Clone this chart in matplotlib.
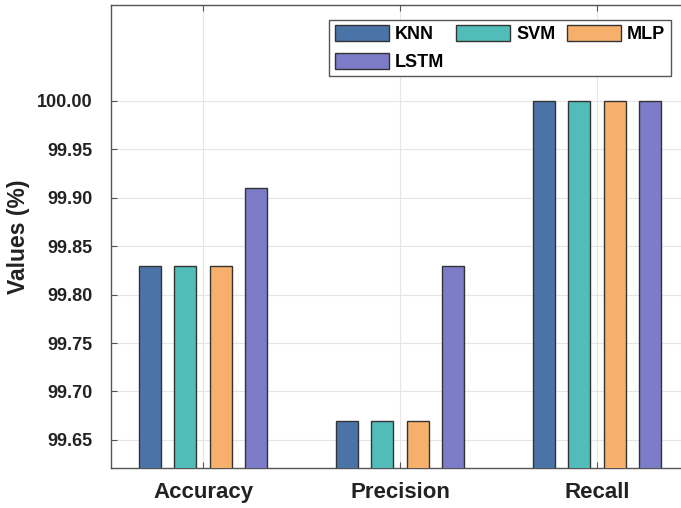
import matplotlib
matplotlib.use("Agg")
import matplotlib.pyplot as plt
import numpy as np

categories = ["Accuracy", "Precision", "Recall"]
models = ["KNN", "SVM", "MLP", "LSTM"]
knn = [99.83, 99.67, 100.00]
svm = [99.83, 99.67, 100.00]
mlp = [99.83, 99.67, 100.00]
lstm = [99.91, 99.83, 100.00]
yticks = [99.65, 99.70, 99.75, 99.80, 99.85, 99.90, 99.95, 100.00]

series = [knn, svm, mlp, lstm]
colors = ["#4a74a8", "#52bdb8", "#f7b06b", "#7d7cc9"]
offsets = [-0.27, -0.09, 0.09, 0.27]
width = 0.112

plt.rcParams['font.family'] = ['Liberation Sans', 'DejaVu Sans']
fig = plt.figure(figsize=(6.81, 5.08), dpi=100)
W, H = 681, 508
ax = fig.add_axes([111 / W, (H - 468) / H, (681 - 111) / W, (468 - 5) / H])

x = np.arange(1, len(categories) + 1)
handles = []
for vals, c, off, name in zip(series, colors, offsets, models):
    b = ax.bar(x + off, vals, width=width, color=c, edgecolor="#333333",
               linewidth=1.0, label=name, zorder=3)
    handles.append(b)

ax.set_xlim(0.533, 3.426)
ax.set_ylim(99.621, 100.099)
ax.set_xticks(x)
ax.set_xticklabels(categories, fontsize=16, fontweight='bold', color='#222222')
ax.set_yticks(yticks)
ax.set_yticklabels([f"{v:.2f}" for v in yticks], fontsize=13, fontweight='bold', color='#222222')
ax.set_ylabel("Values (%)", fontsize=16.5, fontweight='bold', color='#222222', labelpad=5)

ax.grid(True, color="#e6e6e6", linewidth=0.8, zorder=0)
ax.tick_params(axis='both', direction='in', length=4, color='#555555',
               top=True, right=False)
ax.tick_params(axis='y', pad=13)
ax.tick_params(axis='x', pad=10)
for s in ['left', 'bottom', 'top']:
    ax.spines[s].set_color('#555555')
    ax.spines[s].set_linewidth(1.0)
ax.spines['right'].set_visible(False)

# row-major order: KNN SVM MLP / LSTM
order = [0, 3, 1, 2]
leg = ax.legend([handles[i] for i in order], [models[i] for i in order],
                ncol=3, loc='upper right', bbox_to_anchor=(0.982, 0.968),
                borderaxespad=0, fancybox=False, edgecolor='#555555',
                prop={'weight': 'bold', 'size': 13}, handlelength=3.0,
                handleheight=1.0, columnspacing=0.65, handletextpad=0.33,
                labelspacing=0.5, borderpad=0.3, framealpha=1)
leg.get_frame().set_linewidth(1.0)

fig.savefig("out.png", dpi=100)
